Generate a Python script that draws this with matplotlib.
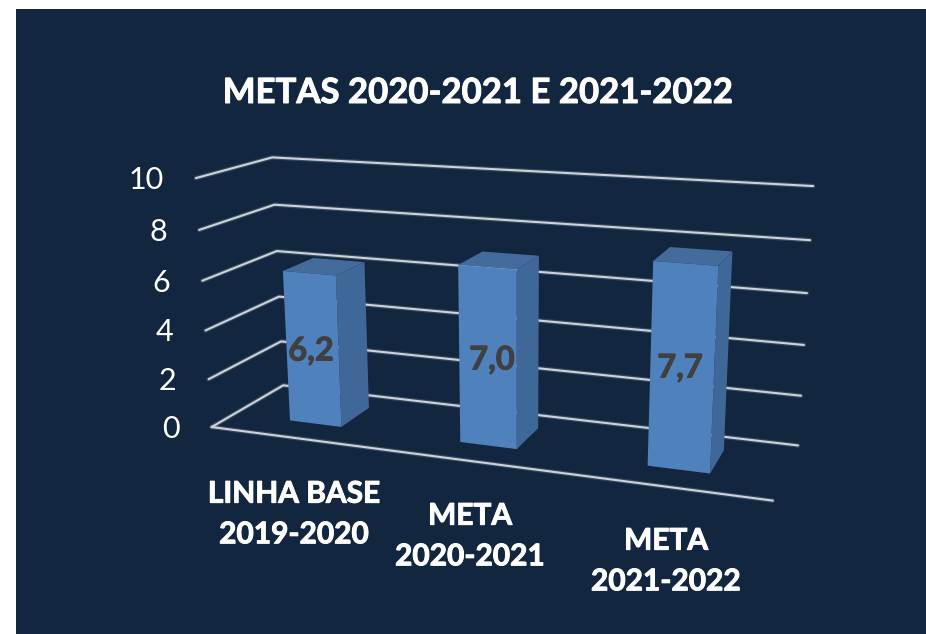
#!/usr/bin/env python3
"""3D-look column chart of school targets, drawn with a fitted perspective camera."""

import numpy as np
import matplotlib
matplotlib.use("Agg")
import matplotlib.pyplot as plt
import matplotlib.patheffects as pe
from matplotlib.patches import Polygon, Rectangle

plt.rcParams["font.family"] = ["Lato", "DejaVu Sans"]

categories = ["LINHA BASE\n2019-2020", "META\n2020-2021", "META\n2021-2022"]
values = [6.2, 7.0, 7.7]
y_ticks = [0, 2, 4, 6, 8, 10]
title = "METAS 2020-2021 E 2021-2022"

NAVY = "#12263f"
FRONT = "#4f81bd"
SIDE = "#3f6797"
TOP = "#436b9c"
GRID = "#ccd3db"
LABEL = "#404040"

# camera calibration: (u, value, depth) -> pixel, front wall on the left, back wall behind
calib_world = [
    (0, 0, 0), (0, 2, 0), (0, 4, 0), (0, 6, 0), (0, 8, 0), (0, 10, 0),
    (0, 0, 1), (0, 2, 1), (0, 4, 1), (0, 6, 1), (0, 8, 1), (0, 10, 1),
    (1, 0, 1), (1, 2, 1), (1, 4, 1), (1, 6, 1), (1, 8, 1), (1, 10, 1),
    (1, 0, 0),
]
calib_pixel = [
    (213, 427), (208, 379), (205, 331), (202, 281), (199, 230), (196, 178),
    (283, 385), (281, 341), (279, 297), (276, 251), (275, 205), (273, 157),
    (798, 446), (801, 396), (804, 345), (807, 293), (810, 240), (813, 186),
    (773, 500),
]


def fit_camera(world, pixel):
    rows = []
    for (u, v, d), (px, py) in zip(world, pixel):
        p = [u, v / 10, d, 1]
        rows.append(p + [0, 0, 0, 0] + [-px * c for c in p])
        rows.append([0, 0, 0, 0] + p + [-py * c for c in p])
    return np.linalg.svd(np.array(rows, float))[2][-1].reshape(3, 4)


CAM = fit_camera(calib_world, calib_pixel)


def project(u, v, d):
    x, y, w = CAM @ np.array([u, v / 10, d, 1.0])
    return x / w, y / w


def heavy(color, width=0.7):
    # Lato's bold runs a little light at this size, so thicken the strokes
    return [pe.withStroke(linewidth=width, foreground=color)]


fig = plt.figure(figsize=(9.26, 6.34), dpi=100, facecolor="white")
ax = fig.add_axes([0, 0, 1, 1])
ax.set_xlim(0, 926)
ax.set_ylim(634, 0)
ax.axis("off")
ax.add_patch(Rectangle((16, 9), 910, 625, facecolor=NAVY, edgecolor="none", zorder=0))


def grid_line(points):
    xs, ys = zip(*points)
    ax.plot(xs, ys, color=GRID, lw=3.2, alpha=0.2, zorder=1, solid_capstyle="round")
    ax.plot(xs, ys, color=GRID, lw=1.5, zorder=1.1, solid_capstyle="round")


for tick in y_ticks:
    grid_line([project(0, tick, 0), project(0, tick, 1), project(1, tick, 1)])
    lx, ly = project(0, tick, 0)
    ax.text(lx - 32, ly + 2, str(tick), color="white", fontsize=22, ha="right", va="center")
grid_line([project(0, 0, 0), project(1, 0, 0)])

BAR_W = 0.104
BAR_D0, BAR_D1 = 0.305, 0.74
for i, val in enumerate(values):
    u0 = (i + 0.5) / 3 - BAR_W / 2
    u1 = u0 + BAR_W
    front = [project(u0, 0, BAR_D0), project(u1, 0, BAR_D0), project(u1, val, BAR_D0), project(u0, val, BAR_D0)]
    side = [project(u1, 0, BAR_D0), project(u1, 0, BAR_D1), project(u1, val, BAR_D1), project(u1, val, BAR_D0)]
    top = [project(u0, val, BAR_D0), project(u1, val, BAR_D0), project(u1, val, BAR_D1), project(u0, val, BAR_D1)]
    ax.add_patch(Polygon(side, facecolor=SIDE, edgecolor="none", zorder=2))
    ax.add_patch(Polygon(top, facecolor=TOP, edgecolor="none", zorder=2))
    ax.add_patch(Polygon(front, facecolor=FRONT, edgecolor="none", zorder=2.1))

label_pos = [(311, 351), (492, 360), (680, 368)]
for (lx, ly), val in zip(label_pos, values):
    ax.text(lx, ly, f"{val:.1f}".replace(".", ","), color=LABEL, fontsize=23.5, fontweight="bold",
            ha="center", va="center", zorder=3, path_effects=heavy(LABEL))

cat_pos = [(294, 514), (470, 536), (666, 561)]
for (lx, ly), cat in zip(cat_pos, categories):
    ax.text(lx, ly, cat, color="white", fontsize=21.5, fontweight="bold", ha="center", va="center",
            linespacing=1.55, path_effects=heavy("white"))

ax.text(478.5, 93, title, color="white", fontsize=25, fontweight="bold", ha="center", va="center",
        path_effects=heavy("white"))

fig.savefig("out.png", dpi=100, facecolor=fig.get_facecolor())
